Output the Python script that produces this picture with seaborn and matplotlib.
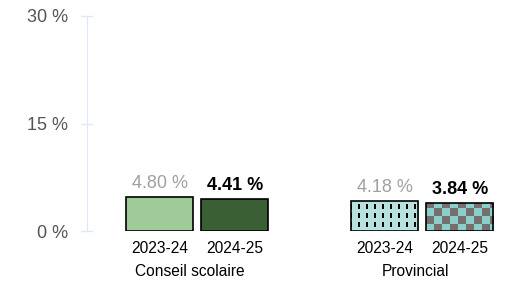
import numpy as np
import pandas as pd
import matplotlib
matplotlib.use("Agg")
import matplotlib.pyplot as plt
import seaborn as sns

# data
groups = ["Conseil scolaire", "Conseil scolaire", "Provincial", "Provincial"]
years = ["2023-24", "2024-25", "2023-24", "2024-25"]
rates = [4.80, 4.41, 4.18, 3.84]
positions = [0, 1, 3, 4]
yticks = [0, 15, 30]

df = pd.DataFrame({"pos": positions, "rate": rates, "year": years, "group": groups})
df["key"] = [f"{g} {y}" for g, y in zip(groups, years)]

sns.set_style("white")
plt.rcParams["font.family"] = ["Liberation Sans", "DejaVu Sans"]

fig = plt.figure(figsize=(5.16, 2.83), dpi=100)
ax = fig.add_axes([0.1686, 0.1837, 0.8314, 0.7598])

colors = ["#9fcb98", "#3a5f34", "#b8e2e0", "#8ccfca"]
sns.barplot(data=df, x="pos", y="rate", hue="key", palette=colors,
            native_scale=True, width=0.9, dodge=False, legend=False,
            saturation=1, edgecolor="black", linewidth=1.2, ax=ax)

ax.set_xlim(-0.97, 4.75)
ax.set_ylim(0, 30)
ax.set_yticks(yticks)
ax.set_yticklabels([f"{v} %" for v in yticks])
ax.set_xticks(positions)
ax.set_xticklabels(years)
ax.set_xlabel("")
ax.set_ylabel("")


def add_texture(patch, kind):
    """Fill a bar with a pixel pattern, clipped to the bar itself."""
    x0, y0 = patch.get_x(), patch.get_y()
    w, h = patch.get_width(), patch.get_height()
    (px0, py0), (px1, py1) = ax.transData.transform([(x0, y0), (x0 + w, y0 + h)])
    nx, ny = int(round(px1 - px0)), int(round(py1 - py0))
    yy, xx = np.mgrid[0:ny, 0:nx]
    if kind == "dash":
        bg = np.array(matplotlib.colors.to_rgb("#b8e2e0"))
        arr = np.tile(bg, (ny, nx, 1))
        mask = ((xx - 7) % 8 < 2) & ((yy - 3) % 9 < 5)
        arr[mask] = 0.0
    else:
        a = np.array(matplotlib.colors.to_rgb("#757070"))
        b = np.array(matplotlib.colors.to_rgb("#8ccfca"))
        check = ((xx // 8 + (yy + 3) // 8) % 2).astype(bool)
        arr = np.where(check[..., None], b, a)
    im = ax.imshow(arr, extent=(x0, x0 + w, y0, y0 + h), origin="upper",
                   interpolation="nearest", aspect="auto",
                   zorder=patch.get_zorder() - 0.1)
    im.set_clip_path(patch)
    patch.set_facecolor("none")


bars = ax.patches
add_texture(bars[2], "dash")
add_texture(bars[3], "check")
ax.set_xlim(-0.97, 4.75)
ax.set_ylim(0, 30)

# value labels
for i, bar in enumerate(bars):
    cx = bar.get_x() + bar.get_width() / 2
    top = bar.get_y() + bar.get_height()
    if years[i] == "2023-24":
        ax.annotate(f"{rates[i]:.2f} %", (cx, top), xytext=(0, 6.5),
                    textcoords="offset points", ha="center", va="baseline",
                    fontsize=13, color="#a0a0a0")
    else:
        ax.annotate(f"{rates[i]:.2f} %", (cx, top), xytext=(0, 6.5),
                    textcoords="offset points", ha="center", va="baseline",
                    fontsize=13, color="black", fontweight="bold")

# group labels under the years
for g in ["Conseil scolaire", "Provincial"]:
    gx = df.loc[df["group"] == g, "pos"].mean()
    ax.annotate(g, (gx, -0.19), xycoords=ax.get_xaxis_transform(),
                xytext=(-5, 0), textcoords="offset points",
                ha="center", va="center", fontsize=11.2, color="black")

sns.despine(ax=ax, top=True, right=True, bottom=True)
ax.spines["left"].set_color("#dde9f5")
ax.tick_params(axis="y", left=True, colors="#dde9f5", labelcolor="#555555",
               labelsize=13, length=8, width=1, direction="inout", pad=9.5)
ax.tick_params(axis="x", bottom=False, length=0, labelsize=11.2,
               labelcolor="black", pad=7)

fig.savefig("out.png", dpi=100)
